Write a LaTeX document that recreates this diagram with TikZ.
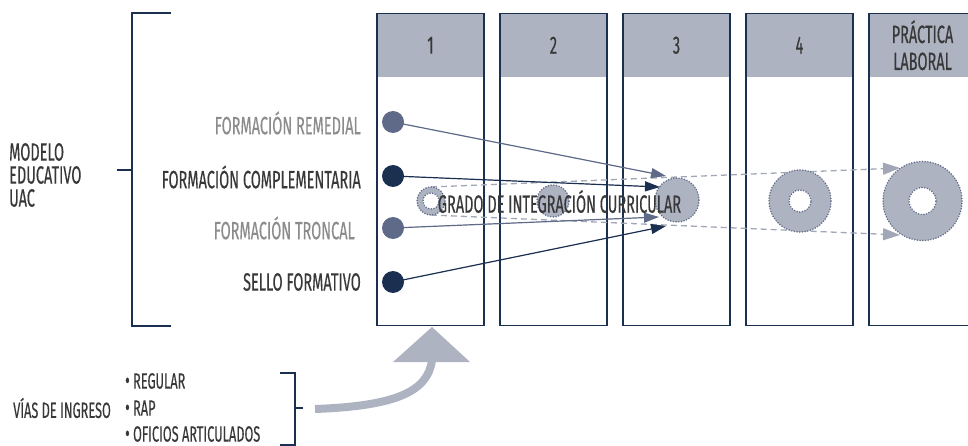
\documentclass[tikz,border=0pt]{standalone}
\usepackage{fontspec}
\setmainfont[FakeStretch=0.58,FakeBold=0.3]{Fira Sans}
\usetikzlibrary{arrows.meta}
\definecolor{navy}{HTML}{1B3050}
\definecolor{dotgray}{HTML}{5E6A87}
\definecolor{headfill}{HTML}{AEB3C1}
\definecolor{dashgray}{HTML}{A2A7B7}
\definecolor{txtdark}{HTML}{383838}
\definecolor{txtlight}{HTML}{8C8C8C}
\newcommand{\bul}{{\fontsize{24}{20}\selectfont•}}
\tikzset{
  colbox/.style={draw=navy, line width=1.5pt, minimum width=107pt, minimum height=312pt, inner sep=0pt},
  headbox/.style={fill=headfill, minimum width=107pt, minimum height=63.5pt, inner sep=0pt, text=txtdark, align=center, font=\fontsize{25}{27}\selectfont},
  dotnode/.style={circle, minimum size=22pt, inner sep=0pt},
  lbl/.style={anchor=east, inner sep=0pt, font=\fontsize{25}{22}\selectfont},
  plain/.style={inner sep=0pt, font=\fontsize{25}{23}\selectfont, text=txtdark},
  small/.style={inner sep=0pt, font=\fontsize{22}{22}\selectfont, text=txtdark},
  gcirc/.style={circle, inner sep=0pt, fill=headfill, draw=dotgray, line width=1.7pt, dash pattern=on 0pt off 2.7pt, line cap=round},
  hole/.style={gcirc, fill=white},
  solidarr/.style={line width=1.2pt, -{Triangle[length=15pt,width=10pt]}},
  dasharr/.style={draw=dashgray, line width=1.3pt, dash pattern=on 6pt off 4pt, -{Triangle[length=17pt,width=12pt]}},
  brack/.style={draw=navy, line width=2.8pt}
}
\begin{document}
\begin{tikzpicture}[x=1pt,y=-1pt]
\useasboundingbox (0,0) rectangle (968,446);
% columns
\foreach \i/\t in {1/1,2/2,3/3,4/4,5/{PRÁCTICA\\LABORAL}}{
  \node[headbox] (h\i) at ({430.5+123*(\i-1)},45.25) {\t};
  \node[colbox] (c\i) at ({430.5+123*(\i-1)},169.5) {};
}
% left bracket
\coordinate (bt) at (171,13);
\coordinate (bb) at (171,326);
\coordinate (bm) at (117,170);
\draw[brack] (bt) -- (132,13) -- (132,326) -- (bb);
\draw[brack] (bm) -- (132,170);
\node[plain, anchor=west, align=left] (mod) at (9,175) {MODELO\\EDUCATIVO\\UAC};
% dashed
\coordinate (s1) at (431,187);
\coordinate (e1) at (900,168);
\coordinate (s2) at (431,215);
\coordinate (e2) at (900,235);
\draw[dasharr] (s1) -- (e1);
\draw[dasharr] (s2) -- (e2);
% circles
\node[gcirc, minimum size=28pt] (g1) at (431,201) {};
\node[hole, minimum size=16pt] (g1h) at (g1) {};
\node[gcirc, minimum size=32pt] (g2) at (553,201) {};
\node[gcirc, minimum size=44pt] (g3) at (677,200) {};
\node[gcirc, minimum size=62pt] (g4) at (800,201) {};
\node[hole, minimum size=22pt] (g4h) at (g4) {};
\node[gcirc, minimum size=79pt] (g5) at (922.5,201) {};
\node[hole, minimum size=27pt] (g5h) at (g5) {};
% dots and labels
\node[dotnode, fill=dotgray] (d1) at (393,122) {};
\node[dotnode, fill=navy] (d2) at (393,176) {};
\node[dotnode, fill=dotgray] (d3) at (393,228) {};
\node[dotnode, fill=navy] (d4) at (393,282) {};
\node[lbl, text=txtlight] (l1) at (361,123) {FORMACIÓN REMEDIAL};
\node[lbl, text=txtdark] (l2) at (361,177) {FORMACIÓN COMPLEMENTARIA};
\node[lbl, text=txtlight] (l3) at (355,228) {FORMACIÓN TRONCAL};
\node[lbl, text=txtdark] (l4) at (361,282) {SELLO FORMATIVO};
% solid arrows
\coordinate (t1) at (666,176);
\coordinate (t2) at (660,187);
\coordinate (t3) at (659,217);
\coordinate (t4) at (666,226);
\draw[solidarr, draw=dotgray, fill=dotgray] (d1.center) -- (t1);
\draw[solidarr, draw=navy, fill=navy] (d2.center) -- (t2);
\draw[solidarr, draw=dotgray, fill=dotgray] (d3.center) -- (t3);
\draw[solidarr, draw=navy, fill=navy] (d4.center) -- (t4);
\node[plain] (grado) at (559.5,201.5) {GRADO DE INTEGRACIÓN CURRICULAR};
% bottom
\node[small, anchor=west] (vias) at (13,408) {VÍAS DE INGRESO};
\node[small, anchor=west] (v1) at (125,381) {\bul\ REGULAR};
\node[small, anchor=west] (v2) at (125,408) {\bul\ RAP};
\node[small, anchor=west] (v3) at (125,434) {\bul\ OFICIOS ARTICULADOS};
\coordinate (vt) at (280,373);
\coordinate (vb) at (280,445);
\coordinate (vm) at (303,408);
\draw[brack] (vt) -- (295,373) -- (295,445) -- (vb);
\draw[brack] (vm) -- (295,408);
% big arrow
\coordinate (a0) at (315,409);
\coordinate (a1) at (432,360);
\coordinate (al) at (393,362);
\coordinate (ar) at (470,362);
\coordinate (at) at (432,327);
\draw[headfill, line width=8pt] (a0) .. controls (395,406) and (428,392) .. (a1);
\fill[headfill] (al) -- (at) -- (ar) -- cycle;
\end{tikzpicture}
\end{document}
